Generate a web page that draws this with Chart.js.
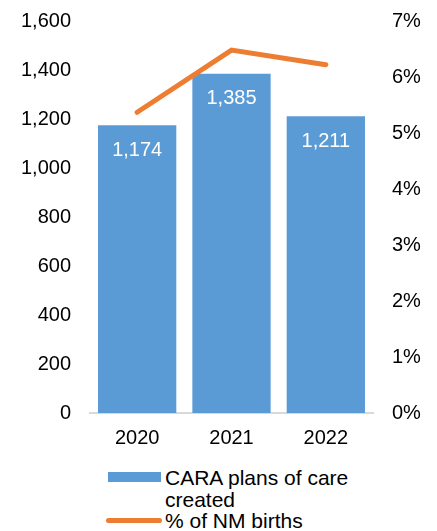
<!DOCTYPE html>
<html lang="en">
  <head>
    <meta charset="UTF-8" />
    <title>CARA plans of care</title>
    <style>
      body {
        margin: 0;
        background: #fff;
        font-family: "Liberation Sans", Arial, sans-serif;
        overflow: hidden;
      }
      .wrap {
        position: relative;
        width: 437px;
        height: 531px;
        overflow: hidden;
      }
      .chart-box {
        position: absolute;
        left: 0;
        top: -10px;
        width: 437px;
        height: 470px;
      }
      .legend {
        position: absolute;
        left: 106px;
        top: 467px;
        font-size: 21px;
        color: #000;
        line-height: 21.7px;
      }
      .legend .item {
        position: relative;
        padding-left: 59px;
        width: 190px;
      }
      .legend .swatch {
        position: absolute;
        left: 2px;
        top: 5px;
        width: 53px;
        height: 10px;
      }
      .legend .line {
        position: absolute;
        left: 0;
        top: 8px;
        width: 56px;
        height: 5px;
        border-radius: 3px;
      }
    </style>
  </head>
  <body>
    <div class="wrap">
      <div class="chart-box"><canvas id="caraChart"></canvas></div>
      <div class="legend" id="legend"></div>
    </div>
    <script src="https://cdn.jsdelivr.net/npm/chart.js"></script>
    <script>
      const years = ["2020", "2021", "2022"];
      const plansCreated = [1174, 1385, 1211];
      const pctBirths = [0.0537, 0.0648, 0.0622];
      const plansLabel = "CARA plans of care created";
      const pctLabel = "% of NM births";

      const BLUE = "#5B9BD5";
      const ORANGE = "#ED7D31";
      const FONT = "'Liberation Sans', Arial, sans-serif";

      // white numbers inside the top of each bar
      const barLabels = {
        id: "barLabels",
        afterDatasetsDraw(chart) {
          const ctx = chart.ctx;
          const idx = chart.data.datasets.findIndex((d) => d.type === "bar");
          const meta = chart.getDatasetMeta(idx);
          ctx.save();
          ctx.fillStyle = "#fff";
          ctx.font = "20px " + FONT;
          ctx.textAlign = "center";
          ctx.textBaseline = "middle";
          meta.data.forEach((bar, i) => {
            ctx.fillText(plansCreated[i].toLocaleString("en-US"), bar.x, bar.y + 25);
          });
          ctx.restore();
        },
      };

      const chart = new Chart(document.getElementById("caraChart"), {
        data: {
          labels: years,
          datasets: [
            {
              type: "line",
              label: pctLabel,
              data: pctBirths,
              yAxisID: "yPct",
              borderColor: ORANGE,
              backgroundColor: ORANGE,
              borderWidth: 5,
              borderCapStyle: "round",
              pointRadius: 0,
              order: 0,
            },
            {
              type: "bar",
              label: plansLabel,
              data: plansCreated,
              yAxisID: "y",
              backgroundColor: BLUE,
              barPercentage: 0.83,
              categoryPercentage: 1,
              order: 1,
            },
          ],
        },
        options: {
          responsive: true,
          maintainAspectRatio: false,
          animation: false,
          layout: { padding: { top: 0 } },
          plugins: {
            legend: { display: false },
            tooltip: { enabled: false },
          },
          scales: {
            x: {
              grid: { display: false, drawTicks: false },
              border: { display: true, color: "#D9D9D9", width: 2 },
              ticks: { color: "#000", font: { family: FONT, size: 20 }, padding: 13 },
              afterFit: (s) => { s.height = 47; },
            },
            y: {
              position: "left",
              min: 0,
              max: 1600,
              grid: { display: false, drawTicks: false },
              border: { display: false },
              ticks: {
                stepSize: 200,
                color: "#000",
                padding: 19,
                font: { family: FONT, size: 20 },
                callback: (v) => v.toLocaleString("en-US"),
              },
              afterFit: (s) => { s.width = 90; },
            },
            yPct: {
              position: "right",
              min: 0,
              max: 0.07,
              grid: { display: false, drawTicks: false },
              border: { display: false },
              ticks: {
                stepSize: 0.01,
                color: "#000",
                padding: 19,
                font: { family: FONT, size: 20 },
                callback: (v) => Math.round(v * 100) + "%",
              },
              afterFit: (s) => { s.width = 64; },
            },
          },
        },
        plugins: [barLabels],
      });

      // legend below the chart, text wraps like the original
      const legend = document.getElementById("legend");
      chart.data.datasets.slice().reverse().forEach((ds) => {
        const item = document.createElement("div");
        item.className = "item";
        const mark = document.createElement("span");
        mark.className = ds.type === "bar" ? "swatch" : "line";
        mark.style.background = ds.backgroundColor;
        item.appendChild(mark);
        item.appendChild(document.createTextNode(ds.label));
        legend.appendChild(item);
      });
    </script>
  </body>
</html>
